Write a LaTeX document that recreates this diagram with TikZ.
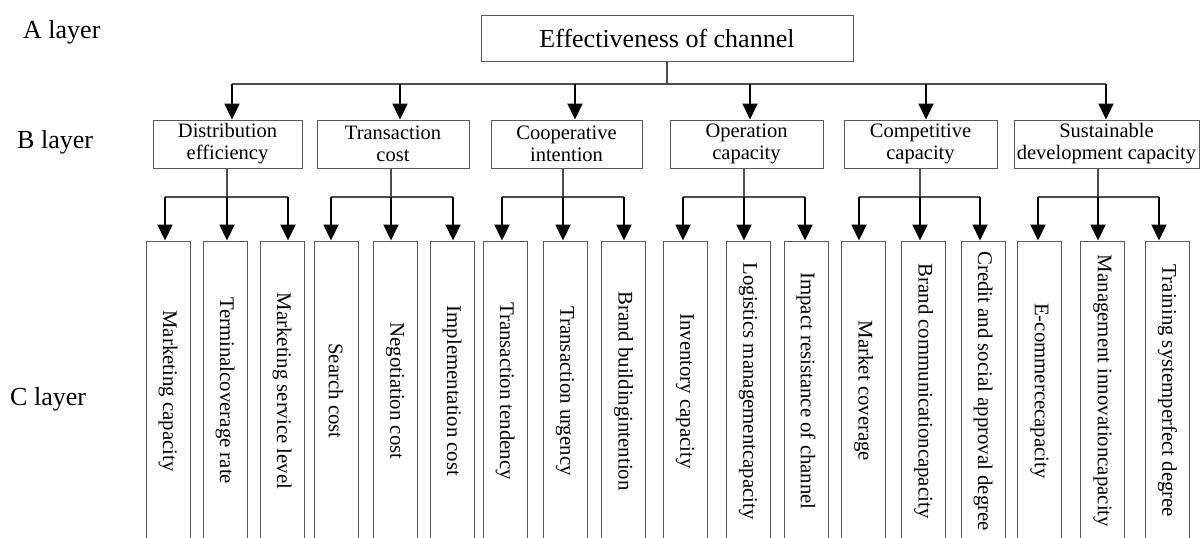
\documentclass[tikz,border=0pt]{standalone}
\usepackage{fontspec}
\setmainfont{Liberation Serif}
\usetikzlibrary{arrows.meta}
\definecolor{boxgray}{gray}{0.35}
\definecolor{linegray}{gray}{0.3}
\tikzset{
  box/.style={draw=boxgray, line width=1pt, inner sep=0pt},
  topbox/.style={box, minimum width=372pt, minimum height=46pt, font=\fontsize{26}{30}\selectfont},
  bbox/.style={box, minimum height=48pt, align=center, font=\fontsize{20.5}{22}\selectfont},
  cbox/.style={box, minimum width=44pt, minimum height=300pt},
  ctext/.style={rotate=-90, font=\fontsize{20.8}{24}\selectfont, inner sep=0pt},
  layer/.style={anchor=base west, font=\fontsize{26}{30}\selectfont, inner sep=0pt},
  link/.style={draw=linegray, line width=1.3pt},
  arr/.style={draw=black, line width=2.2pt, -{Triangle[width=15pt,length=16pt]}},
}
\begin{document}
\begin{tikzpicture}[x=1pt,y=-1pt]
\useasboundingbox (0,0) rectangle (1200,538);
\clip (0,0) rectangle (1200,538);
\fill[white] (0,0) rectangle (1200,538);

% layer labels
\node[layer] (la) at (23,38) {A layer};
\node[layer] (lb) at (17,148) {B layer};
\node[layer] (lc) at (10,405) {C layer};

% A layer
\node[topbox] (A) at (667,38) {Effectiveness of channel};

% B layer
\node[bbox, minimum width=149pt] (b1) at (227.5,144) {Distribution\\efficiency};
\node[bbox, minimum width=152pt] (b2) at (393,144) {Transaction\\cost};
\node[bbox, minimum width=151pt] (b3) at (566.5,144) {Cooperative\\intention};
\node[bbox, minimum width=153pt] (b4) at (746.5,144) {Operation\\capacity};
\node[bbox, minimum width=153pt] (b5) at (920.5,144) {Competitive\\capacity};
\node[bbox, minimum width=185pt] (b6) at (1106.5,144) {Sustainable\\development capacity};

% A -> B connectors
\coordinate (ja) at (A.south |- 0,84);
\coordinate (ab1) at (232,84);
\coordinate (ab2) at (400,84);
\coordinate (ab3) at (575,84);
\coordinate (ab4) at (750,84);
\coordinate (ab5) at (926,84);
\coordinate (ab6) at (1106,84);
\draw[link] (A.south) -- (ja);
\draw[link] (ab1) -- (ab6);
\foreach \i in {1,...,6}{
  \draw[arr] (ab\i) -- (ab\i |- b\i.north);
}

% C layer boxes
\foreach \n/\xl/\xr/\t in {
  1/146/190/Marketing capacity,
  2/203/247/Terminalcoverage rate,
  3/260/304/Marketing service level,
  4/314/358/Search cost,
  5/373/417/Negotiation cost,
  6/430/474/Implementation cost,
  7/483/527/Transaction tendency,
  8/543/587/Transaction urgency,
  9/602/645/Brand buildingintention,
  10/663/707/Inventory capacity,
  11/727/769/Logistics managementcapacity,
  12/784/828/Impact resistance of channel,
  13/842/885/Market coverage,
  14/902/945/Brand communicationcapacity,
  15/962/1004/Credit and social approval degree,
  16/1018/1061/E-commercecapacity,
  17/1081/1124/Management innovationcapacity,
  18/1146/1189/Training systemperfect degree}{
  \node[cbox] (c\n) at ({(\xl+\xr)/2},391) {};
  \node[ctext] (t\n) at (c\n.center) {\t};
}

% B -> C connectors
\foreach \g/\dx/\xa/\xb/\xc in {
  1/227/165/227/288,
  2/391/331/391/453,
  3/563/502/563/624,
  4/744/683/744/805,
  5/920/859/920/980,
  6/1098/1038/1098/1159}{
  \coordinate (d\g) at (\dx,197);
  \coordinate (h\g a) at (\xa,197);
  \coordinate (h\g b) at (\xb,197);
  \coordinate (h\g c) at (\xc,197);
  \draw[link] (b\g.south -| d\g) -- (d\g);
  \draw[link] (h\g a) -- (h\g c);
}
\foreach \g/\ca/\cb/\cc in {1/1/2/3, 2/4/5/6, 3/7/8/9, 4/10/11/12, 5/13/14/15, 6/16/17/18}{
  \draw[arr] (h\g a) -- (h\g a |- c\ca.north);
  \draw[arr] (h\g b) -- (h\g b |- c\cb.north);
  \draw[arr] (h\g c) -- (h\g c |- c\cc.north);
}
\end{tikzpicture}
\end{document}
